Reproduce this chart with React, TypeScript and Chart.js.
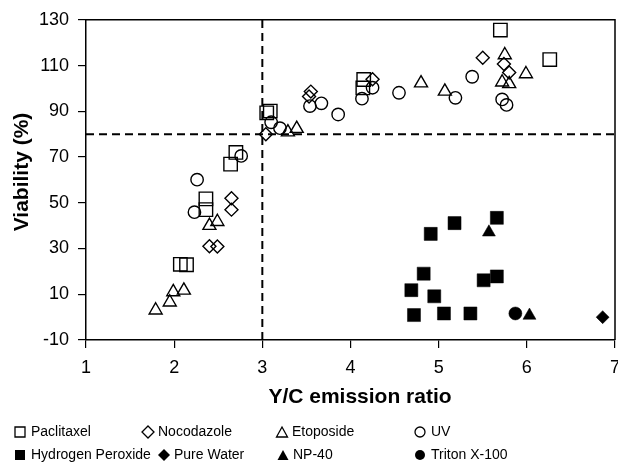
import React, { useEffect, useRef } from 'react';
import { Chart, registerables } from 'chart.js';

Chart.register(...registerables);

// ---- data ----
const paclitaxelX = [3.05, 3.09, 2.64, 2.70, 2.36, 2.36, 2.07, 2.14, 4.15, 4.14, 5.70, 6.26];
const paclitaxelY = [89.3, 90.1, 66.9, 72.0, 51.7, 47.0, 23.1, 22.9, 103.9, 100.2, 125.5, 112.6];

const nocodazoleX = [3.04, 2.65, 2.65, 2.40, 2.49, 3.55, 3.53, 4.25, 5.50, 5.74, 5.80];
const nocodazoleY = [80.0, 52.0, 47.0, 31.0, 30.9, 98.6, 96.5, 104.0, 113.4, 110.7, 107.0];

const etoposideX = [1.79, 1.95, 1.99, 2.11, 2.40, 2.49, 3.29, 3.39, 4.80, 5.07, 5.75, 5.99, 5.72, 5.80];
const etoposideY = [3.0, 6.5, 11.0, 11.7, 40.0, 41.7, 80.9, 82.4, 102.3, 98.7, 114.6, 106.3, 102.7, 102.0];

const uvX = [2.26, 2.23, 2.76, 3.10, 3.20, 3.54, 3.67, 3.86, 4.13, 4.25, 4.55, 5.19, 5.38, 5.72, 5.77];
const uvY = [60.1, 45.9, 70.5, 85.2, 82.6, 92.3, 93.5, 88.6, 95.5, 100.3, 98.1, 95.9, 105.1, 95.2, 92.8];

const peroxideX = [4.91, 5.18, 5.66, 4.83, 4.69, 4.95, 4.72, 5.06, 5.36, 5.51, 5.66];
const peroxideY = [36.4, 41.1, 43.4, 19.0, 11.8, 9.1, 0.9, 1.6, 1.6, 16.1, 17.8];

const pureWaterX = [6.86];
const pureWaterY = [0.0];

const np40X = [5.57, 6.03];
const np40Y = [37.1, 0.7];

const tritonX = [5.87];
const tritonY = [1.6];

const xTicks = [1, 2, 3, 4, 5, 6, 7];
const yTicks = [-10, 10, 30, 50, 70, 90, 110, 130];
const xCut = 3;
const yCut = 80;

const seriesLabels = [
  'Paclitaxel', 'Nocodazole', 'Etoposide', 'UV',
  'Hydrogen Peroxide', 'Pure Water', 'NP-40', 'Triton X-100',
];
const xTitle = 'Y/C emission ratio';
const yTitle = 'Viability (%)';

const FONT = "'Liberation Sans', Arial, Helvetica, sans-serif";

const zip = (xs: number[], ys: number[]) => xs.map((x, i) => ({ x, y: ys[i] }));

// legend layout: [markerX, textX, y]
const legendLayout = [
  [20, 31, 432], [148, 158, 432], [282, 292, 432], [420, 431, 432],
  [20, 31, 455], [164, 174, 455], [283, 293, 455], [420, 431, 455],
];

function drawMarker(ctx: CanvasRenderingContext2D, style: string, filled: boolean, x: number, y: number, s: number) {
  ctx.beginPath();
  if (style === 'rect') {
    ctx.rect(x - s / 2, y - s / 2, s, s);
  } else if (style === 'rectRot') {
    const r = s * 0.6;
    ctx.moveTo(x, y - r);
    ctx.lineTo(x + r, y);
    ctx.lineTo(x, y + r);
    ctx.lineTo(x - r, y);
    ctx.closePath();
  } else if (style === 'triangle') {
    const h = s;
    ctx.moveTo(x, y - h / 2);
    ctx.lineTo(x + s * 0.55, y + h / 2);
    ctx.lineTo(x - s * 0.55, y + h / 2);
    ctx.closePath();
  } else {
    ctx.arc(x, y, s / 2, 0, Math.PI * 2);
  }
  if (filled) {
    ctx.fillStyle = '#000';
    ctx.fill();
  } else {
    ctx.strokeStyle = '#000';
    ctx.lineWidth = 1.3;
    ctx.stroke();
  }
}

const framePlugin = {
  id: 'frameAndLegend',
  afterDatasetsDraw(chart: any) {
    const { ctx, chartArea } = chart;
    ctx.save();
    ctx.strokeStyle = '#000';
    ctx.lineWidth = 1.5;
    ctx.beginPath();
    ctx.moveTo(chartArea.left, chartArea.top);
    ctx.lineTo(chartArea.right, chartArea.top);
    ctx.lineTo(chartArea.right, chartArea.bottom);
    ctx.stroke();
    ctx.restore();
  },
  afterDraw(chart: any) {
    const { ctx } = chart;
    ctx.save();
    // axis titles
    ctx.fillStyle = '#000';
    ctx.font = `bold 21px ${FONT}`;
    ctx.textAlign = 'center';
    ctx.textBaseline = 'middle';
    ctx.fillText(xTitle, 360, 397);
    ctx.save();
    ctx.translate(22, 172);
    ctx.rotate(-Math.PI / 2);
    ctx.fillText(yTitle, 0, 0);
    ctx.restore();
    // legend
    ctx.font = `14px ${FONT}`;
    ctx.textBaseline = 'middle';
    ctx.textAlign = 'left';
    seriesLabels.forEach((label, i) => {
      const ds = chart.data.datasets[i];
      const [mx, tx, y] = legendLayout[i];
      const filled = ds.pointBackgroundColor === '#000';
      drawMarker(ctx, ds.pointStyle, filled, mx, y, 10);
      ctx.fillStyle = '#000';
      ctx.fillText(label, tx, y);
    });
    ctx.restore();
  },
};

function makeSeries(label: string, xs: number[], ys: number[], style: string, filled: boolean, radius: number) {
  return {
    label,
    data: zip(xs, ys),
    pointStyle: style,
    pointRadius: radius,
    pointHoverRadius: radius,
    pointBorderColor: '#000',
    pointBorderWidth: filled ? 0.5 : 1.4,
    pointBackgroundColor: filled ? '#000' : 'rgba(0,0,0,0)',
    showLine: false,
    order: 1,
  };
}

export default function App() {
  const ref = useRef<HTMLCanvasElement>(null);

  useEffect(() => {
    if (!ref.current) return;
    const datasets: any[] = [
      makeSeries(seriesLabels[0], paclitaxelX, paclitaxelY, 'rect', false, 9.5),
      makeSeries(seriesLabels[1], nocodazoleX, nocodazoleY, 'rectRot', false, 6.5),
      makeSeries(seriesLabels[2], etoposideX, etoposideY, 'triangle', false, 7.5),
      makeSeries(seriesLabels[3], uvX, uvY, 'circle', false, 6.2),
      makeSeries(seriesLabels[4], peroxideX, peroxideY, 'rect', true, 9.2),
      makeSeries(seriesLabels[5], pureWaterX, pureWaterY, 'rectRot', true, 6.5),
      makeSeries(seriesLabels[6], np40X, np40Y, 'triangle', true, 7.5),
      makeSeries(seriesLabels[7], tritonX, tritonY, 'circle', true, 6.5),
      {
        type: 'line',
        label: 'vcut',
        data: [{ x: xCut, y: yTicks[0] }, { x: xCut, y: yTicks[yTicks.length - 1] }],
        borderColor: '#000',
        borderWidth: 2,
        borderDash: [8, 5],
        pointRadius: 0,
        showLine: true,
        order: 10,
      },
      {
        type: 'line',
        label: 'hcut',
        data: [{ x: xTicks[0], y: yCut }, { x: xTicks[xTicks.length - 1], y: yCut }],
        borderColor: '#000',
        borderWidth: 2,
        borderDash: [8, 5],
        pointRadius: 0,
        showLine: true,
        order: 10,
      },
    ];

    const chart = new Chart(ref.current, {
      type: 'scatter',
      data: { datasets },
      plugins: [framePlugin],
      options: {
        responsive: false,
        animation: false,
        devicePixelRatio: 1,
        layout: { autoPadding: false, padding: { top: 18, right: 3, left: 0, bottom: 0 } },
        plugins: {
          legend: { display: false },
          tooltip: { enabled: false },
        },
        scales: {
          x: {
            type: 'linear',
            min: xTicks[0],
            max: xTicks[xTicks.length - 1],
            afterBuildTicks: (scale: any) => { scale.ticks = xTicks.map((v) => ({ value: v })); },
            afterFit: (scale: any) => { scale.height = 123; scale.paddingRight = 0; scale.paddingLeft = 0; },
            ticks: { color: '#000', font: { family: FONT, size: 18 }, padding: 9, maxRotation: 0 },
            grid: { display: true, drawOnChartArea: false, drawTicks: true, tickLength: 8, color: '#000', lineWidth: 1.2 },
            border: { display: true, color: '#000', width: 1.5 },
          },
          y: {
            type: 'linear',
            min: yTicks[0],
            max: yTicks[yTicks.length - 1],
            afterBuildTicks: (scale: any) => { scale.ticks = yTicks.map((v) => ({ value: v })); },
            afterFit: (scale: any) => { scale.width = 86; },
            ticks: { color: '#000', font: { family: FONT, size: 18 }, padding: 9 },
            grid: { display: true, drawOnChartArea: false, drawTicks: true, tickLength: 8, color: '#000', lineWidth: 1.2 },
            border: { display: true, color: '#000', width: 1.5 },
          },
        },
      } as any,
    });
    return () => chart.destroy();
  }, []);

  return (
    <div style={{ position: 'absolute', left: 0, top: 0, width: 618, height: 463 }}>
      <canvas ref={ref} width={618} height={463} style={{ display: 'block', width: 618, height: 463 }} />
    </div>
  );
}
